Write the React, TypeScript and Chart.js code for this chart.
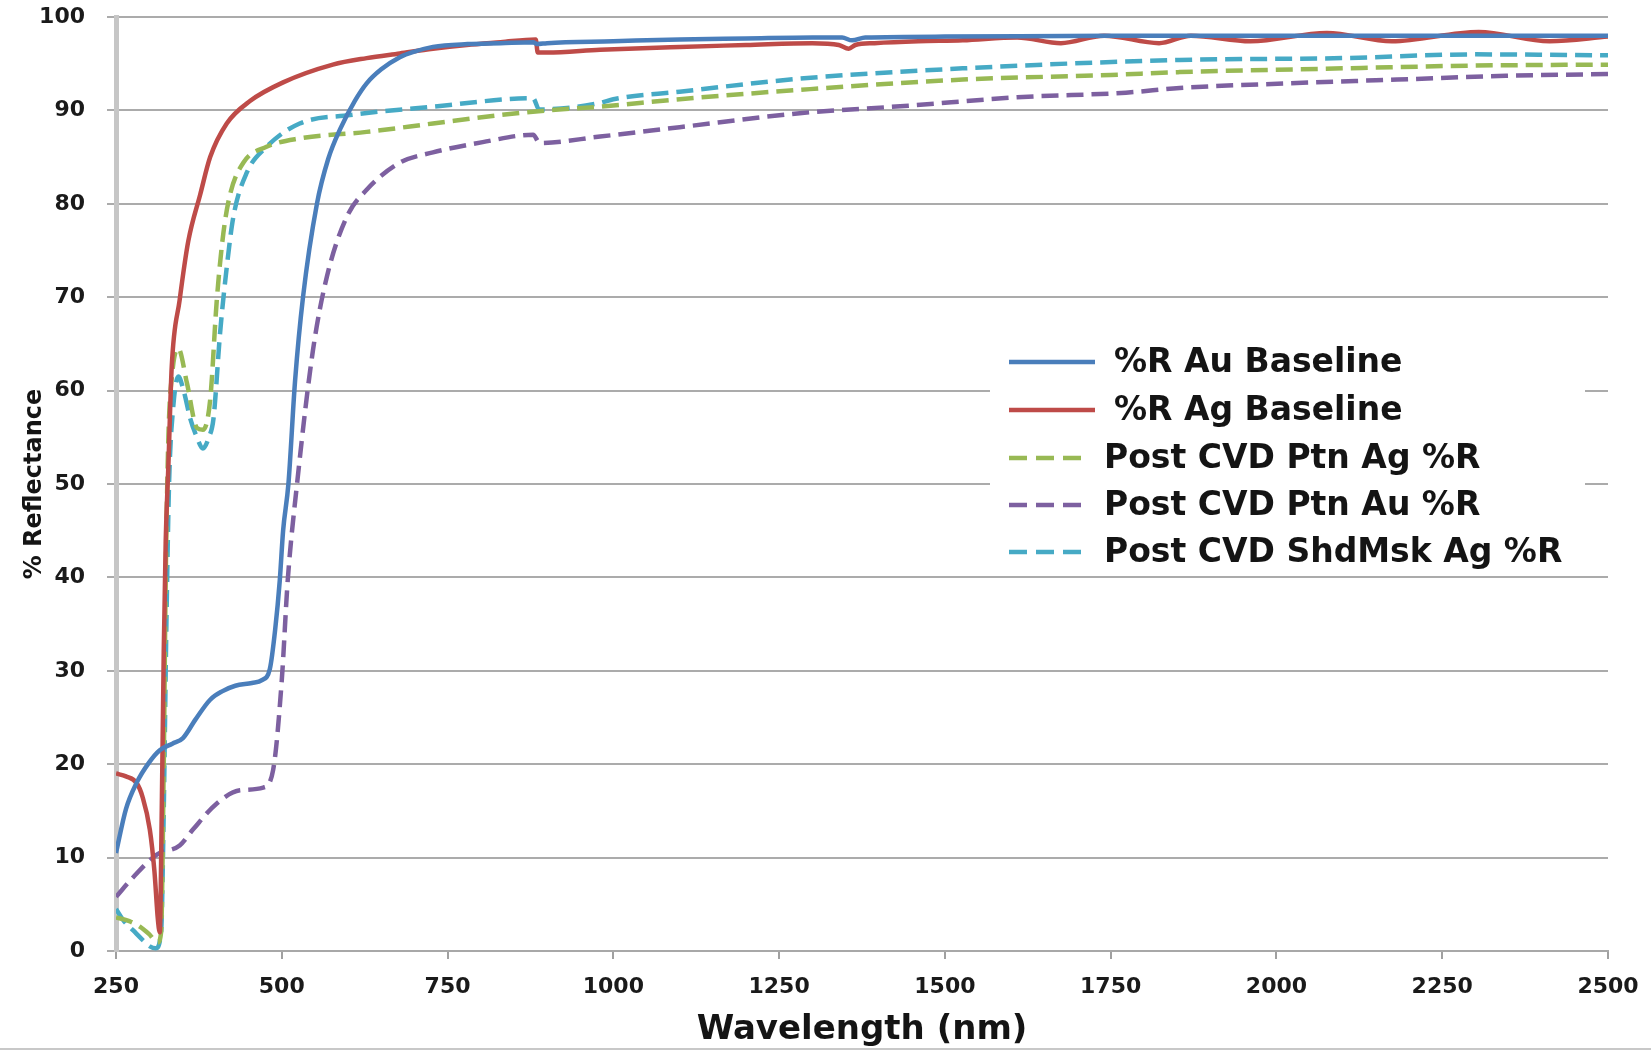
import React, { useEffect, useRef } from "react";
import { Chart, registerables } from "chart.js";

Chart.register(...registerables);

// ---- Data (wavelength nm, % reflectance) ----
const auBaseWl = [250, 265, 281, 300, 316, 335, 351, 370, 392, 410, 430, 455, 470, 482, 490, 497, 502, 510, 520, 532, 553, 570, 588, 610, 628, 650, 678, 700, 728, 780, 830, 879, 885, 900, 1000, 1100, 1200, 1300, 1345, 1360, 1380, 1500, 1750, 2000, 2250, 2500];
const auBaseR = [10.5, 15.2, 18, 20.2, 21.5, 22.2, 22.8, 24.8, 26.9, 27.8, 28.4, 28.7, 29, 30.2, 34.4, 39.7, 45, 50, 61, 70, 80, 84.8, 88, 91, 92.9, 94.4, 95.7, 96.3, 96.8, 97.1, 97.2, 97.3, 97.1, 97.2, 97.4, 97.6, 97.7, 97.8, 97.8, 97.5, 97.8, 97.9, 98.0, 98.0, 98.0, 98.0];

const agBaseWl = [250, 265, 281, 290, 301, 308, 313, 316, 319, 322, 325, 329, 334, 346, 359, 377, 392, 417, 452, 502, 577, 628, 678, 728, 779, 830, 883, 886, 900, 980, 1100, 1200, 1300, 1340, 1355, 1365, 1394, 1460, 1527, 1609, 1675, 1740, 1823, 1871, 1961, 2076, 2174, 2305, 2412, 2500];
const agBaseR = [19, 18.7, 18, 16.5, 13, 8.5, 3.5, 2, 15, 32, 44, 52, 62.5, 69.7, 76, 81, 85, 88.6, 91, 93, 94.9, 95.6, 96.1, 96.6, 97, 97.3, 97.6, 96.2, 96.2, 96.5, 96.8, 97, 97.2, 97.0, 96.6, 97.0, 97.2, 97.4, 97.5, 97.8, 97.2, 98.0, 97.2, 98.0, 97.4, 98.3, 97.4, 98.4, 97.4, 97.9];

const ptnAgWl = [250, 270, 286, 300, 313, 318, 322, 325, 329, 335, 344, 357, 372, 381, 392, 402, 412, 422, 442, 477, 527, 628, 728, 829, 900, 980, 1100, 1281, 1527, 1750, 1854, 2100, 2300, 2500];
const ptnAgR = [3.6, 3.2, 2.6, 1.8, 0.9, 2, 20, 40, 55, 62, 64.5, 60.8, 56, 55.8, 59, 69.7, 76.9, 81, 84.4, 86.1, 87, 87.7, 88.6, 89.5, 90, 90.4, 91.2, 92.2, 93.3, 93.8, 94.1, 94.5, 94.8, 94.9];

const ptnAuWl = [250, 276, 311, 346, 366, 402, 437, 472, 487, 500, 509, 523, 547, 568, 598, 628, 678, 728, 803, 879, 889, 980, 1100, 1281, 1445, 1609, 1773, 1854, 2018, 2182, 2346, 2500];
const ptnAuR = [5.8, 7.9, 10.3, 11.3, 13, 15.8, 17.2, 17.5, 19.4, 29, 39.7, 50, 64.3, 72.2, 78.6, 81.5, 84.4, 85.5, 86.6, 87.4, 86.5, 87.2, 88.2, 89.7, 90.5, 91.4, 91.9, 92.4, 92.9, 93.3, 93.7, 93.9];

const shdAgWl = [250, 262, 276, 290, 301, 310, 318, 322, 326, 330, 336, 344, 352, 362, 372, 381, 390, 397, 407, 417, 427, 447, 477, 527, 603, 728, 879, 888, 980, 1000, 1100, 1281, 1527, 1854, 2100, 2300, 2500];
const shdAgR = [4.5, 3.2, 2.2, 1.2, 0.5, 0.3, 2, 15, 35, 50, 58, 61.5, 60, 57, 55, 53.8, 55, 57, 66.2, 73.2, 78.6, 83.3, 86.1, 88.6, 89.5, 90.4, 91.3, 90.1, 90.8, 91.2, 92.0, 93.4, 94.5, 95.4, 95.6, 96.0, 95.9];

const seriesLabels = ["%R Au Baseline", "%R Ag Baseline", "Post CVD Ptn Ag %R", "Post CVD Ptn Au %R", "Post CVD ShdMsk Ag %R"];
const seriesColors = ["#4a7ebb", "#be4b48", "#98b954", "#7d60a0", "#46aac5"];
const seriesDashed = [false, false, true, true, true];

const xTickMin = 250;
const xTickMax = 2500;
const xTickStep = 250;
const yTickMin = 0;
const yTickMax = 100;
const yTickStep = 10;

const FONT = '"DejaVu Sans", "Verdana", sans-serif';

function pts(wl: number[], r: number[]) {
  return wl.map((x, i) => ({ x, y: r[i] }));
}

const legendPlugin = {
  id: "boxLegend",
  beforeDatasetsDraw(chart: any) {
    const ctx = chart.ctx;
    ctx.save();
    ctx.fillStyle = "#ffffff";
    ctx.fillRect(990, 322, 595, 248);
    ctx.restore();
  },
  afterDatasetsDraw(chart: any) {
    const ctx = chart.ctx;
    const rows = [362, 410, 458, 505, 552];
    ctx.save();
    ctx.font = `bold 33px ${FONT}`;
    ctx.textBaseline = "middle";
    ctx.textAlign = "left";
    seriesLabels.forEach((lab, i) => {
      const y = rows[i];
      ctx.strokeStyle = seriesColors[i];
      ctx.lineWidth = 4.5;
      ctx.lineCap = "butt";
      if (seriesDashed[i]) {
        ctx.setLineDash([18, 9]);
        ctx.beginPath();
        ctx.moveTo(1009, y);
        ctx.lineTo(1087, y);
        ctx.stroke();
      } else {
        ctx.setLineDash([]);
        ctx.beginPath();
        ctx.moveTo(1009, y);
        ctx.lineTo(1095, y);
        ctx.stroke();
      }
      ctx.setLineDash([]);
      ctx.fillStyle = "#141414";
      ctx.fillText(lab, seriesDashed[i] ? 1104 : 1114, y + 1);
    });
    ctx.restore();
  },
  afterDraw(chart: any) {
    const ctx = chart.ctx;
    ctx.save();
    ctx.strokeStyle = "#c8c8c8";
    ctx.lineWidth = 2;
    ctx.beginPath();
    ctx.moveTo(0, 1049);
    ctx.lineTo(1651, 1049);
    ctx.stroke();
    ctx.restore();
  },
};

export default function App() {
  const ref = useRef<HTMLCanvasElement | null>(null);

  useEffect(() => {
    document.body.style.margin = "0";
    const canvas = ref.current;
    if (!canvas) return;
    const allWl = [auBaseWl, agBaseWl, ptnAgWl, ptnAuWl, shdAgWl];
    const allR = [auBaseR, agBaseR, ptnAgR, ptnAuR, shdAgR];
    const datasets = seriesLabels.map((label, i) => ({
      label,
      data: pts(allWl[i], allR[i]),
      borderColor: seriesColors[i],
      backgroundColor: seriesColors[i],
      borderWidth: 4.5,
      borderDash: seriesDashed[i] ? [17, 8] : [],
      pointRadius: 0,
      fill: false,
      cubicInterpolationMode: "monotone" as const,
    }));
    const chart = new Chart(canvas, {
      type: "line",
      data: { datasets },
      plugins: [legendPlugin],
      options: {
        responsive: false,
        animation: false,
        devicePixelRatio: 1,
        layout: { padding: { left: 0, top: 17, right: 43, bottom: 0 } },
        plugins: {
          legend: { display: false },
          tooltip: { enabled: false },
        },
        scales: {
          x: {
            type: "linear",
            min: xTickMin,
            max: xTickMax,
            afterFit: (s: any) => {
              s.height = 101;
              s.paddingLeft = 0;
              s.paddingRight = 0;
            },
            ticks: {
              stepSize: xTickStep,
              color: "#1a1a1a",
              font: { family: FONT, size: 22, weight: "bold" },
              padding: 15,
              maxRotation: 0,
              autoSkip: false,
              callback: (v: any) => String(v),
            },
            grid: {
              drawOnChartArea: false,
              drawTicks: true,
              tickLength: 8,
              color: "#a0a0a0",
              lineWidth: 2,
            },
            border: { color: "#a8a8a8", width: 2 },
            title: {
              display: true,
              text: "Wavelength (nm)",
              color: "#141414",
              font: { family: FONT, size: 34, weight: "bold" },
              padding: { top: 0, bottom: 1 },
            },
          },
          y: {
            type: "linear",
            min: yTickMin,
            max: yTickMax,
            afterFit: (s: any) => {
              s.width = 116;
              s.paddingTop = 0;
              s.paddingBottom = 0;
            },
            ticks: {
              stepSize: yTickStep,
              color: "#1a1a1a",
              font: { family: FONT, size: 22, weight: "bold" },
              padding: 22,
              callback: (v: any) => String(v),
            },
            grid: {
              color: "#ababab",
              lineWidth: 2,
              drawTicks: true,
              tickLength: 9,
            },
            border: { color: "#c6c6c6", width: 5 },
            title: {
              display: true,
              text: "% Reflectance",
              color: "#141414",
              font: { family: FONT, size: 24, weight: "bold" },
              padding: { top: 20, bottom: 0 },
            },
          },
        },
      },
    });
    return () => chart.destroy();
  }, []);

  return (
    <div style={{ width: 1651, height: 1052, background: "#fff" }}>
      <canvas ref={ref} width={1651} height={1052} style={{ display: "block" }} />
    </div>
  );
}
